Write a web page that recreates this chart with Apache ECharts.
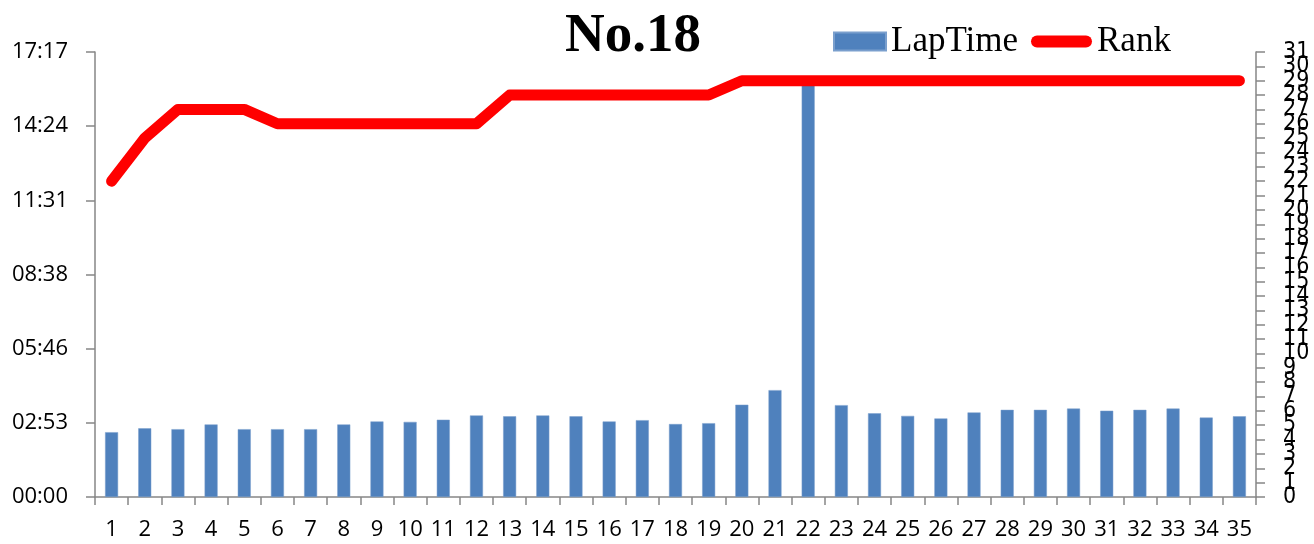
<!DOCTYPE html>
<html>
<head>
<meta charset="utf-8">
<script src="https://cdn.jsdelivr.net/npm/echarts@6/dist/echarts.min.js"></script>
<style>
html,body{margin:0;padding:0;background:#fff;}
#chart{width:1314px;height:544px;}
</style>
</head>
<body>
<div id="chart"></div>
<script>
// Laps (categories)
var laps = ['1','2','3','4','5','6','7','8','9','10','11','12','13','14','15','16','17','18','19','20','21','22','23','24','25','26','27','28','29','30','31','32','33','34','35'];
// Lap time in seconds
var lapTimeSec = [151,160,158,169,158,158,158,169,176,175,180,190,188,190,188,176,179,170,172,215,249,970,214,195,189,183,197,203,203,206,201,203,206,185,188];
// Rank per lap
var rank = [22,25,27,27,27,26,26,26,26,26,26,26,28,28,28,28,28,28,28,29,29,29,29,29,29,29,29,29,29,29,29,29,29,29,29];
// Left axis: 0 .. 0.012 day in steps of 0.002 day (seconds)
var timeAxisMax = 1036.8;
var timeAxisStep = 172.8;
var rankAxisMax = 31;

function fmtTime(v){
  var s = Math.round(v);
  var m = Math.floor(s/60), r = s%60;
  return (m<10?'0':'')+m+':'+(r<10?'0':'')+r;
}

var W = 1314, H = 544;
var gLeft = 95, gRight = 58, gTop = 52, gBottom = 47;
var unitPx = (H - gTop - gBottom) / rankAxisMax;

var rankLabelStyle = {margin:27, fontFamily:'Liberation Sans Narrow, DejaVu Sans Condensed', fontSize:23, color:'#000', hideOverlap:false, showMinLabel:true, showMaxLabel:true};

var chart = echarts.init(document.getElementById('chart'));
var axisGrey = '#868686';
chart.setOption({
  animation:false,
  backgroundColor:'#fff',
  title:{
    text:'No.18',
    left:628, top:4, textAlign:'center',
    textStyle:{fontFamily:'Liberation Serif', fontWeight:'bold', fontSize:55, color:'#000'}
  },
  legend:[{
    data:['LapTime'],
    left:833, top:24, padding:0,
    itemWidth:52, itemHeight:18,
    icon:'rect',
    textStyle:{fontFamily:'Liberation Serif', fontSize:35, color:'#000'}
  },{
    data:[{name:'Rank', icon:'path://M6,0 L55,0 A6,6 0 0 1 55,12 L6,12 A6,6 0 0 1 6,0 Z'}],
    left:1031, top:24, padding:0,
    itemWidth:61, itemHeight:12,
    textStyle:{fontFamily:'Liberation Serif', fontSize:35, color:'#000'}
  }],
  grid:[
    {left:gLeft, right:gRight, top:gTop, bottom:gBottom, containLabel:false},
    // helper grid extended one rank unit below, only for the odd rank labels
    {left:gLeft, right:gRight, top:gTop, bottom:gBottom - unitPx, containLabel:false}
  ],
  xAxis:[{
    type:'category', data:laps, boundaryGap:true, gridIndex:0,
    axisLine:{lineStyle:{color:axisGrey, width:1.5}},
    axisTick:{show:true, length:8, alignWithLabel:false, lineStyle:{color:axisGrey, width:1.5}},
    axisLabel:{interval:0, margin:22, fontFamily:'Open Sans', fontSize:22, color:'#000'},
    splitLine:{show:false}
  },{
    type:'category', data:laps, gridIndex:1, show:false
  }],
  yAxis:[{
    type:'value', min:0, max:timeAxisMax, interval:timeAxisStep, gridIndex:0,
    axisLine:{show:true, lineStyle:{color:axisGrey, width:1.5}},
    axisTick:{show:true, length:9, lineStyle:{color:axisGrey, width:1.5}},
    axisLabel:{margin:27, fontFamily:'Open Sans', fontSize:22, color:'#000', formatter:fmtTime, showMinLabel:true, showMaxLabel:true},
    splitLine:{show:false}
  },{
    type:'value', min:0, max:rankAxisMax, interval:1, gridIndex:0,
    position:'right',
    axisLine:{show:true, lineStyle:{color:axisGrey, width:1.5}},
    axisTick:{show:true, length:9, lineStyle:{color:axisGrey, width:1.5}},
    axisLabel:Object.assign({}, rankLabelStyle, {formatter:function(v){ return (v % 2 === 0) ? String(v) : ''; }}),
    splitLine:{show:false}
  },{
    type:'value', min:-1, max:rankAxisMax, interval:2, gridIndex:1,
    position:'right',
    axisLine:{show:false}, axisTick:{show:false}, splitLine:{show:false},
    axisLabel:Object.assign({}, rankLabelStyle, {formatter:function(v){ return v < 0 ? '' : String(v); }})
  }],
  series:[{
    name:'LapTime', type:'bar', data:lapTimeSec, xAxisIndex:0, yAxisIndex:0,
    barWidth:13,
    itemStyle:{color:'#4F81BD', borderColor:'#7A9FCD', borderWidth:0.5},
    z:2
  },{
    name:'Rank', type:'line', data:rank, xAxisIndex:0, yAxisIndex:1,
    showSymbol:false, symbol:'none',
    lineStyle:{color:'#FF0000', width:11, cap:'round', join:'round'},
    itemStyle:{color:'#FF0000'},
    z:5
  }]
});
</script>
</body>
</html>
